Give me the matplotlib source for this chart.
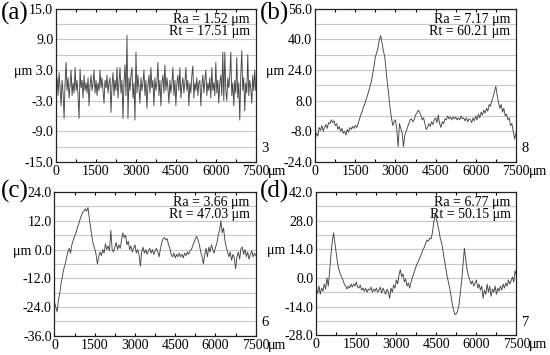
import numpy as np
import matplotlib
matplotlib.use("Agg")
from matplotlib import pyplot as plt

plt.rcParams["font.family"] = "serif"
plt.rcParams["font.serif"] = ["Liberation Serif", "Times New Roman", "Nimbus Roman", "DejaVu Serif"]

# profile heights (um), sampled evenly from 0 to 7500 um
profile_a = [
    -1.0, 1.5, -2.0, 2.5, -0.5, -4.0, 1.0, -1.5, -6.5, 0.5,
    4.5, -1.0, 1.5, -2.5, 0.0, 3.0, -2.0, 0.5, -1.5, 3.5,
    -1.0, 1.0, -2.0, -6.5, 3.2, -0.5, 1.0, -2.5, 2.0, -1.0,
    0.5, -1.5, 1.5, -4.0, 0.0, 2.0, -1.0, 0.5, 3.0, -1.5,
    1.0, -2.0, 0.5, -1.0, 3.0, -0.5, 1.5, -1.0, -3.5, 1.0,
    -0.5, 2.0, -1.5, 0.5, 1.5, -5.3, 0.0, 2.5, -2.0, 1.0,
    -1.0, 3.5, -2.5, 0.5, 3.5, -1.5, 1.0, -6.5, 0.5, 4.0,
    -2.0, 9.8, -6.5, 1.5, -1.0, 2.0, 3.5, -2.5, 0.5, -6.8,
    6.5, -1.5, 2.0, -0.5, -3.5, 1.5, -1.0, 0.5, 3.0, -2.0,
    1.0, -4.5, 0.0, 2.0, -1.5, 3.5, -0.5, 1.0, -4.0, 1.5,
    -1.0, 0.5, 4.5, -2.0, 1.0, -4.0, 0.5, 2.0, -1.5, 4.0,
    -1.0, 1.5, -0.5, -3.5, 1.0, -1.5, 0.5, 3.5, -2.0, 1.0,
    -4.0, 0.5, 2.0, -1.0, 3.5, -2.5, 0.0, 1.5, -1.5, 0.5,
    3.5, -1.0, 1.0, -4.0, 0.5, -1.5, 2.0, 3.8, -2.5, 0.5,
    -1.0, 1.5, -2.0, 0.5, 1.0, -4.0, 0.0, 2.0, -1.5, 1.0,
    3.0, -2.0, 0.5, -1.0, 1.5, -2.5, 3.5, -1.0, 0.5, -2.0,
    4.5, -1.5, 1.0, -3.5, 0.5, 2.0, -2.0, 6.5, -3.0, 6.5,
    -1.0, -3.0, 1.5, -0.5, 2.0, 6.5, -2.0, 0.5, -4.0, 1.0,
    -1.5, 5.5, -2.5, 0.5, -6.8, 2.0, 6.8, -1.0, 1.5, -5.0,
    0.5, -1.5, 6.0, -2.0, 1.0, -0.5, -3.5, 2.0, -1.0, 3.0,
    -1.0,
]

profile_b = [
    -12, -9, -10.5, -6, -7.5, -5, -8, -6, -4.5, -6.5,
    -3.5, -4, -2, -3.5, -2.5, -5, -4, -7, -5.5, -8,
    -6.5, -9, -8, -10, -7, -8.5, -6, -7, -5.5, -6.5,
    -5, -6, -4.5, -2, 0.5, 2, 4.5, 6, 8.5, 10.5,
    13, 15.5, 18, 22, 26, 31, 33, 36, 40, 42,
    38, 34, 31, 24, 17, 11, 4, -1, -5, -3,
    -2, -7, -16, -4, -6.5, -9, -16, -10, -8, -6,
    -4, -2, -1.5, -3, -2, 0.5, 1.5, 3, 2, 0.5,
    -2, -1, -4, -7, -6, -4, -5.5, -3, -4.5, -2,
    -1, -3.5, 0.5, -4, -6, -3, -4, -1.5, -2, 0,
    -1.5, -0.5, -2, -0.5, -1.5, -0.5, -2, -1, -2, 0,
    -1.5, -1, -2.5, -1, -3, -1.5, -2, -3.5, -1, -2.5,
    0, -2, 1, -1, 2, 0.5, 3, 1.5, 4, 2.5,
    6, 5, 8, 10, 13, 15.5, 11, 7, 4, 6,
    2, 4, 0, 1, -2, -1, -5, -4, -8, -12,
    -9,
]

profile_c = [
    -22, -24, -26, -21, -18, -14, -11, -8, -6, -3.5,
    -1, 0.5, -1.5, 2, 4, 5.5, 7, 9, 10.5, 12.5,
    14, 15.5, 16, 17, 16, 17.5, 13, 9, 5, 2,
    0.5, -2, -6, -3, -1, -2.5, 0, -1.5, 2.5, 0,
    1.5, -0.5, 8, 0, -1, 1, 3, 0, 2, 0.5,
    4, 7, 5, 6, 2, 3.5, 0, 1.5, -1, 0.5,
    2, -1.5, 0, -2, -7, -1, 1, -1.5, 0, -2,
    -0.5, 0.5, -1.5, 0, -2, -0.5, 0.5, -1, -3, 0.5,
    3, 4.5, 5, 4, 4.5, 2, 0.5, -2, -3, -1.5,
    -3.5, -2, -3, -1.5, -3, -2, -3.5, -1.5, -2.5, -1,
    -2, -0.5, 0, 1.5, 3, 4.5, 5.5, 4, 2, -1,
    -3, -6, -2, 0.5, -3, 1, -1, 2, 0, -1.5,
    1, 2.5, 6, 8, 12, 7, 9, 4, 1, -1,
    -3, -1, -4.5, -2, -3.5, -8, -3, -1, -4, 0.5,
    1, -2, 0, -3, -1, -4, -2, -0.5, -3, -1.5,
    -2.5,
]

profile_d = [
    -5, -7.5, -4, -8, -5, -6.5, -3, -5.5, 0, -4,
    3, 11, 18, 22, 17, 12, 7, 4, 2, 0.5,
    -1, -3, -4, -5.5, -4, -5, -3, -4.5, -3, -4,
    -2, -4.5, -5, -3.5, -6, -5, -6.5, -5, -7, -5.5,
    -6, -4.5, -7, -5.5, -6.5, -5, -7, -6, -4.5, -7.5,
    -5, -6.5, -8, -5.5, -7, -10, -5, -7, -3.5, -5,
    -1, -3, 1.5, 4, 0.5, 2, -2, -0.5, -4, -2.5,
    -5, -2, 0, 2, 4, 6, 7.5, 9, 10.5, 12,
    14, 15, 17, 18.5, 18, 19.5, 19, 22, 27, 31,
    29, 26, 23, 19, 17, 13, 9, 5, 1, -2,
    -5, -9, -13, -16, -18, -17.5, -16, -13, -7, -1,
    7, 14.5, 9, 4, 1, -1, -3, -1.5, -4, -2.5,
    -1, -5, -3, -6, -4, -10, -6, -8, -3, -7,
    -4, -9, -5.5, -7, -4, -8, -5, -6.5, -4, -6,
    -3, -5, -2.5, -4, -1, -3, -1.5, 0.5, -2, 3.5,
    1,
]

panels = ["(a)", "(b)", "(c)", "(d)"]
profiles = [profile_a, profile_b, profile_c, profile_d]
y_limits = [(-15, 15), (-24, 56), (-36, 24), (-28, 42)]
y_steps = [6, 16, 12, 14]
ra_values = ["1.52", "7.17", "3.66", "6.77"]
rt_values = ["17.51", "60.21", "47.03", "50.15"]
side_marks = ["3", "8", "6", "7"]
x_ticks = [0, 1500, 3000, 4500, 6000, 7500]

# axes boxes [left, bottom, width, height] in figure fractions
boxes = [
    [0.102, 0.544, 0.363, 0.431],
    [0.573, 0.544, 0.365, 0.431],
    [0.099, 0.054, 0.366, 0.405],
    [0.575, 0.056, 0.364, 0.403],
]
letter_pos = [(0.002, 0.995), (0.472, 0.995), (0.002, 0.492), (0.472, 0.492)]

fig = plt.figure(figsize=(5.5, 3.55), dpi=100, facecolor="white")

for k in range(4):
    ax = fig.add_axes(boxes[k])
    y = np.array(profiles[k], dtype=float)
    x = np.linspace(0, 7500, len(y))
    ax.plot(x, y, color="#454545", lw=0.65)

    lo, hi = y_limits[k]
    step = y_steps[k]
    ax.set_xlim(0, 7500)
    ax.set_ylim(lo, hi)

    major = np.arange(lo, hi + 0.1, step)
    minor = np.arange(lo, hi + 0.1, step / 2)
    ylabels = [f"{v:.1f}" for v in major]
    ylabels[-3] = "μm " + ylabels[-3]
    ax.set_yticks(major)
    ax.set_yticklabels(ylabels, fontsize=10)
    ax.set_yticks(minor, minor=True)
    ax.grid(True, axis="y", which="both", color="#c8c8c8", lw=0.8)
    ax.set_axisbelow(True)
    ax.tick_params(axis="y", which="both", length=0, pad=2)

    ax.set_xticks(x_ticks)
    ax.set_xticklabels([str(t) for t in x_ticks], fontsize=10)
    ax.set_xticks(np.arange(0, 7501, 750), minor=True)
    ax.tick_params(axis="x", which="both", direction="in", length=2.5,
                   width=0.8, top=True, pad=2)

    for sp in ax.spines.values():
        sp.set_color("#222222")
        sp.set_linewidth(0.9)

    ax.text(0.97, 0.975, f"Ra = {ra_values[k]} μm\nRt = {rt_values[k]} μm",
            transform=ax.transAxes, ha="right", va="top", fontsize=10,
            linespacing=0.95)

    # unit label after the last x tick
    ax.annotate("μm", xy=(1, 0), xycoords="axes fraction", xytext=(9, -2),
                textcoords="offset points", ha="left", va="top", fontsize=10)

    # leftover marks at the right edge
    ax.text(1.03, 0.09, side_marks[k], transform=ax.transAxes, ha="left",
            va="center", fontsize=10.5)

    fig.text(letter_pos[k][0], letter_pos[k][1], panels[k], ha="left",
             va="top", fontsize=18)

fig.savefig("out.png", dpi=100)
